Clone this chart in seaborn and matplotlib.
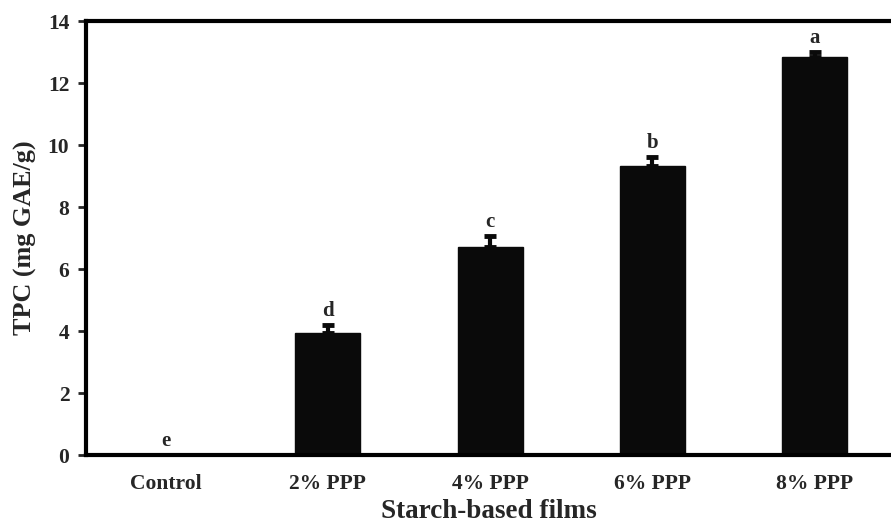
import numpy as np
import pandas as pd
import matplotlib
matplotlib.use('Agg')
import matplotlib.pyplot as plt
import seaborn as sns

films = ['Control', '2% PPP', '4% PPP', '6% PPP', '8% PPP']
tpc = [0.0, 3.93, 6.70, 9.33, 12.83]
tpc_sd = [0.0, 0.26, 0.36, 0.30, 0.18]
letters = ['e', 'd', 'c', 'b', 'a']

sns.set_style('white')
plt.rcParams['font.family'] = ['Liberation Serif', 'DejaVu Serif']
plt.rcParams['font.weight'] = 'bold'

df = pd.DataFrame({'film': films, 'tpc': tpc})

fig = plt.figure(figsize=(8.91, 5.27), dpi=100)
ax = fig.add_axes([0.0965, 0.1366, 0.9035, 0.8234])

sns.barplot(data=df, x='film', y='tpc', order=films, color='#0a0a0a',
            width=0.4, errorbar=None, saturation=1, ax=ax, edgecolor='#0a0a0a')

x = np.arange(len(films))
ax.errorbar(x, tpc, yerr=[np.zeros(len(tpc)), tpc_sd], fmt='none',
            ecolor='#0a0a0a', elinewidth=3, capsize=4.5, capthick=3.5)

for xi, v, s, lab in zip(x, tpc, tpc_sd, letters):
    ax.text(xi, v + s + 0.12, lab, ha='center', va='bottom',
            fontsize=15, fontweight='bold')

ax.set_xlim(-0.49, 4.47)
ax.set_ylim(0, 14)
ax.set_yticks(np.arange(0, 15, 2))
ax.set_xlabel('Starch-based films', fontsize=19.5, fontweight='bold', labelpad=3)
ax.set_ylabel('TPC (mg GAE/g)', fontsize=18.8, fontweight='bold', labelpad=8)

for side in ['left', 'bottom', 'top']:
    ax.spines[side].set_linewidth(3)
    ax.spines[side].set_color('black')
ax.spines['right'].set_visible(False)

ax.tick_params(axis='y', direction='out', length=6, width=2, labelsize=15.5,
               left=True, pad=6)
ax.tick_params(axis='x', length=0, labelsize=15.5, pad=14)
for t in ax.get_xticklabels() + ax.get_yticklabels():
    t.set_fontweight('bold')

fig.savefig('out.png', dpi=100)
